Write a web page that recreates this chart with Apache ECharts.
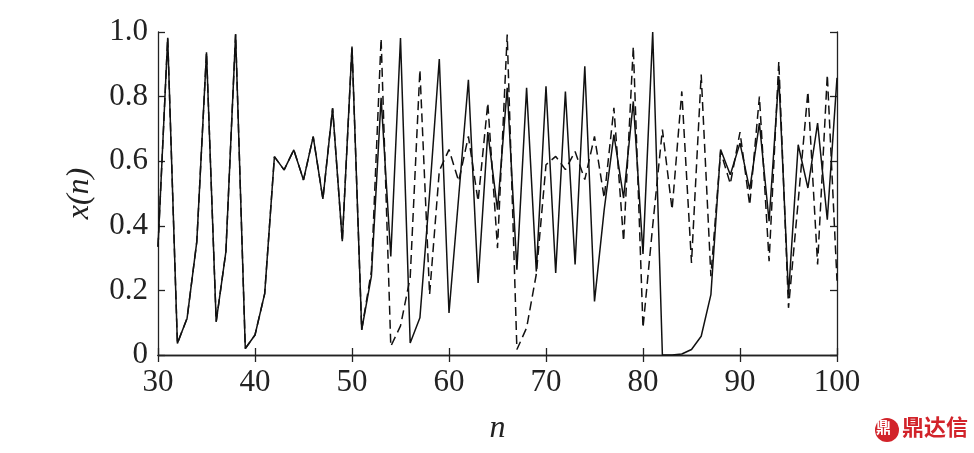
<!DOCTYPE html>
<html>
<head>
<meta charset="utf-8">
<script src="https://cdn.jsdelivr.net/npm/echarts@6/dist/echarts.min.js"></script>
<style>html,body{margin:0;padding:0;background:#fff;}#c{width:974px;height:453px;}</style>
</head>
<body>
<div id="c"></div>
<script>
var nValues = [];
for (var i = 30; i <= 100; i++) nValues.push(i);

var solidSeries = [
  0.335, 0.982, 0.036, 0.114, 0.351, 0.937, 0.103, 0.32, 0.993, 0.02,
  0.062, 0.19, 0.614, 0.573, 0.635, 0.542, 0.676, 0.483, 0.764, 0.352,
  0.955, 0.078, 0.244, 0.796, 0.305, 0.981, 0.037, 0.115, 0.5, 0.916,
  0.13, 0.49, 0.852, 0.223, 0.69, 0.45, 0.827, 0.264, 0.827, 0.259,
  0.832, 0.254, 0.816, 0.28, 0.894, 0.166, 0.45, 0.682, 0.486, 0.785,
  0.313, 1.0, 0.0, 0.0, 0.003, 0.017, 0.058, 0.187, 0.636, 0.558,
  0.656, 0.512, 0.718, 0.414, 0.863, 0.187, 0.651, 0.517, 0.718, 0.419,
  0.858
];

var dashedSeries = [
  0.335, 0.982, 0.036, 0.114, 0.351, 0.937, 0.103, 0.32, 0.993, 0.02,
  0.062, 0.19, 0.614, 0.573, 0.635, 0.542, 0.676, 0.483, 0.764, 0.352,
  0.955, 0.078, 0.26, 0.98, 0.027, 0.09, 0.24, 0.883, 0.187, 0.57,
  0.636, 0.538, 0.677, 0.476, 0.78, 0.331, 0.992, 0.017, 0.084, 0.25,
  0.589, 0.615, 0.574, 0.63, 0.543, 0.677, 0.486, 0.765, 0.352, 0.955,
  0.084, 0.4, 0.698, 0.45, 0.816, 0.285, 0.868, 0.244, 0.63, 0.53,
  0.69, 0.464, 0.8, 0.29, 0.909, 0.146, 0.476, 0.816, 0.28, 0.868,
  0.23
];

var xTicks = [30, 40, 50, 60, 70, 80, 90, 100];
var yTicks = [0, 0.2, 0.4, 0.6, 0.8, 1.0];

function pairs(vals) {
  return nValues.map(function (n, i) { return [n, vals[i]]; });
}

var serif = '"Times New Roman", "Liberation Serif", serif';
var axisLineStyle = { color: '#222', width: 1.3 };

var chart = echarts.init(document.getElementById('c'), null, { renderer: 'canvas' });
chart.setOption({
  animation: false,
  backgroundColor: '#fff',
  grid: { left: 158, right: 137, top: 32, bottom: 98, containLabel: false },
  xAxis: [{
    type: 'value', min: 30, max: 100, interval: 10,
    name: 'n', nameLocation: 'middle', nameGap: 58,
    nameTextStyle: { fontFamily: serif, fontStyle: 'italic', fontSize: 32, color: '#222' },
    axisLine: { show: true, lineStyle: axisLineStyle },
    axisTick: { show: true, inside: true, length: 7, lineStyle: axisLineStyle },
    axisLabel: { fontFamily: serif, fontSize: 31, color: '#222', margin: 12,
      formatter: function (v) { return xTicks.indexOf(v) >= 0 ? String(v) : ''; } },
    splitLine: { show: false }
  }, {
    type: 'value', position: 'top', min: 30, max: 100, interval: 10,
    axisLine: { show: true, lineStyle: axisLineStyle },
    axisTick: { show: true, inside: true, length: 7, lineStyle: axisLineStyle },
    axisLabel: { show: false }, splitLine: { show: false }
  }],
  yAxis: [{
    type: 'value', min: 0, max: 1, interval: 0.2,
    name: 'x(n)', nameLocation: 'middle', nameGap: 62, nameRotate: 90,
    nameTextStyle: { fontFamily: serif, fontStyle: 'italic', fontSize: 32, color: '#222' },
    axisLine: { show: true, lineStyle: axisLineStyle },
    axisTick: { show: true, inside: true, length: 7, lineStyle: axisLineStyle },
    axisLabel: { fontFamily: serif, fontSize: 31, color: '#222', margin: 10,
      formatter: function (v) {
        var t = yTicks.filter(function (y) { return Math.abs(y - v) < 1e-9; });
        if (!t.length) return '';
        return v === 0 ? '0' : v.toFixed(1);
      } },
    splitLine: { show: false }
  }, {
    type: 'value', position: 'right', min: 0, max: 1, interval: 0.2,
    axisLine: { show: true, lineStyle: axisLineStyle },
    axisTick: { show: true, inside: true, length: 7, lineStyle: axisLineStyle },
    axisLabel: { show: false }, splitLine: { show: false }
  }],
  series: [{
    type: 'line', data: pairs(solidSeries), xAxisIndex: 0, yAxisIndex: 0,
    showSymbol: false, symbol: 'none',
    lineStyle: { color: '#111', width: 1.5, type: 'solid' }, z: 3
  }, {
    type: 'line', data: pairs(dashedSeries), xAxisIndex: 0, yAxisIndex: 0,
    showSymbol: false, symbol: 'none',
    lineStyle: { color: '#111', width: 1.5, type: [9, 5] }, z: 2
  }],
  graphic: [{
    type: 'circle', shape: { cx: 887, cy: 430, r: 12 },
    style: { fill: '#d2232a' }
  }, {
    type: 'text', left: 876, top: 420,
    style: { text: '鼎', fill: '#fff', font: 'bold 15px "Noto Sans CJK SC"' }
  }, {
    type: 'text', left: 902, top: 416,
    style: { text: '鼎达信', fill: '#d2232a', font: 'bold 22px "Noto Sans CJK SC"' }
  }]
});
</script>
</body>
</html>
